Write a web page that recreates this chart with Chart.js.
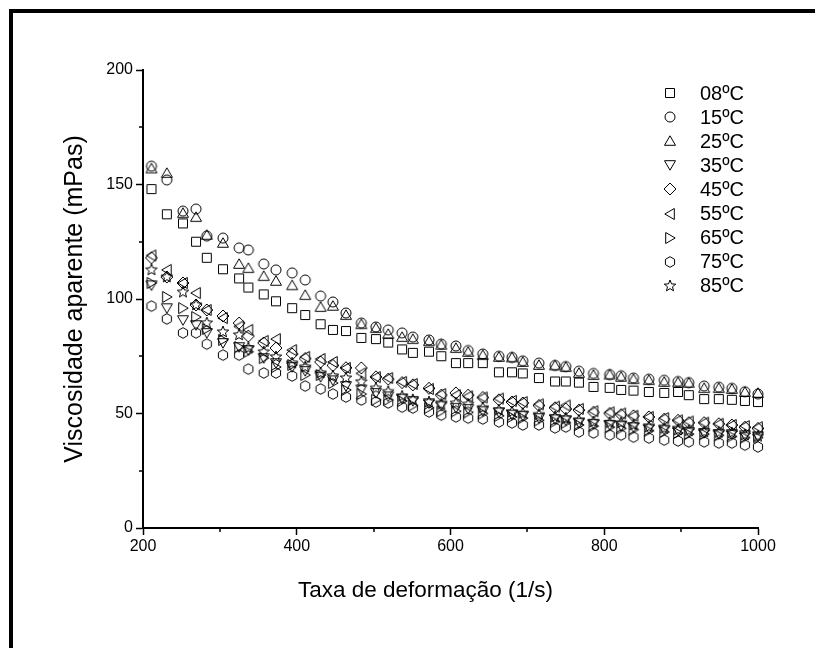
<!DOCTYPE html>
<html><head><meta charset="utf-8">
<script src="https://cdn.jsdelivr.net/npm/chart.js@4"></script>
<style>
html,body{margin:0;padding:0;background:#fff;}
#wrap{position:relative;width:815px;height:648px;overflow:hidden;background:#fff;}
#c{position:absolute;left:0;top:0;}
#frame{position:absolute;left:9px;top:9px;width:900px;height:800px;border-left:4px solid #000;border-top:4px solid #000;box-sizing:border-box;pointer-events:none;}
</style></head><body>
<div id="wrap"><canvas id="c" width="815" height="648"></canvas><div id="frame"></div></div>
<script>
// ---- data ----
const xRate = [211, 231, 252, 269, 283, 304, 325, 337, 357, 373, 394, 411, 431, 447, 464, 484, 503, 519, 537, 551, 572, 588, 607, 623, 642, 663, 680, 694, 715, 736, 750, 767, 786, 807, 822, 838, 858, 878, 896, 910, 930, 949, 966, 983, 1000];
const visc08 = [148, 137, 133, 125, 118, 113, 109, 105, 102, 99, 96, 93, 89, 86.5, 86, 83, 82.5, 81, 78, 76.5, 77, 75, 72, 72, 72, 68, 68, 67.5, 65.5, 64, 64, 63.5, 61.6, 61.2, 60.3, 60, 59.4, 59, 59.4, 58, 56.3, 56.3, 56, 55.5, 55];
const visc15 = [158, 152, 138.4, 139.3, 127.5, 126.6, 122.3, 121.4, 115.3, 112.7, 111.4, 108.3, 101.3, 98.7, 93.9, 89.5, 87.8, 86.5, 85.2, 83.4, 82.1, 80.3, 79.5, 77.5, 76, 75, 74.5, 73, 72, 71, 70.5, 68.5, 67.5, 67, 66.5, 65.5, 65, 64.5, 64, 63.5, 62, 61.5, 61, 59.5, 58.5];
const visc25 = [157, 155, 137.5, 135.8, 128, 124.5, 115.3, 113.5, 110, 107.9, 106, 101.7, 96.5, 97, 93, 89, 87.3, 84.7, 83.4, 82.5, 81.6, 80, 78.6, 76.9, 75.5, 74.7, 74.5, 72.5, 71.2, 71, 70.3, 67.7, 66.8, 67, 66, 65, 64.6, 63.8, 63.6, 63.4, 61.1, 61.1, 60.7, 59.4, 59];
const visc35 = [106, 96, 90.8, 88.6, 85.2, 80.8, 79, 77.7, 74.2, 72, 70.3, 68.6, 66, 64.5, 62, 60.5, 59, 57.5, 56.5, 55.5, 54.5, 53.5, 52.5, 52, 51, 50.5, 49.5, 49, 48, 47.5, 47, 46, 45.5, 45, 44.5, 44, 43.5, 43, 42.5, 42, 41.5, 41, 41, 40.5, 40];
const visc45 = [118, 109.6, 107, 97.4, 95.2, 92.6, 89.5, 83.8, 80.8, 78.6, 76, 74, 72.5, 71, 70, 69.9, 66, 65, 63.5, 62.5, 61, 58, 59, 58, 57, 56, 55, 54.6, 53.5, 52.5, 52, 51.5, 50.5, 50, 49.5, 49, 48.5, 47.5, 47, 46, 46, 45.5, 45, 44, 43.5];
const visc55 = [119, 112.7, 107, 102.6, 95.2, 91.7, 88, 86.5, 81.7, 82.5, 77.7, 74.7, 73.8, 72.5, 69.9, 67.5, 65.9, 65.5, 63.8, 62.9, 60.7, 58.5, 58, 57.5, 57, 56.5, 55.5, 55, 54, 53, 53.5, 52, 51, 50.5, 50, 49, 48.5, 48, 47, 46.5, 46, 45.5, 45, 44.5, 44];
const visc65 = [107, 100.9, 96, 92.1, 86.9, 82.1, 79, 77, 74.2, 70.3, 71.2, 66.8, 66.8, 63.3, 60.3, 58.5, 56, 56, 55.5, 53.5, 52.5, 51, 51, 50.5, 50, 49, 48.5, 48, 47, 46.5, 46, 45, 44.5, 44, 43.5, 43, 42.5, 42, 41.5, 41, 41, 40.5, 40, 39.5, 39.5];
const visc75 = [96.9, 91.3, 85.2, 85.2, 80.3, 75.5, 75.5, 69.4, 67.7, 67.7, 66.4, 62, 60.7, 58.5, 57.2, 55.9, 55, 54.6, 52.8, 52.4, 50.7, 49.3, 48.5, 48, 47.6, 46.3, 45.9, 45, 45, 43.7, 44.1, 41.9, 41.5, 40.6, 40.6, 39.7, 39.3, 38.4, 38, 37.6, 37.6, 37.1, 37.1, 36.2, 35.4];
const visc85 = [112.7, 109.6, 103, 97.4, 89.5, 85.6, 84.3, 78.6, 76.9, 74.7, 72, 70.3, 67.7, 66.4, 65.5, 63.8, 61, 59.5, 57.5, 56, 55, 54, 54.5, 54, 52.5, 51.5, 50.7, 50, 49.5, 48.5, 48, 47, 46.3, 46, 45.9, 45, 44.1, 43.5, 42.8, 42.5, 41.9, 41.7, 41.5, 40.6, 40];
const seriesLabels = ['08ºC', '15ºC', '25ºC', '35ºC', '45ºC', '55ºC', '65ºC', '75ºC', '85ºC'];
const seriesValues = [visc08, visc15, visc25, visc35, visc45, visc55, visc65, visc75, visc85];
const markerKinds = ['square', 'circle', 'up', 'down', 'diamond', 'left', 'right', 'hexagon', 'star'];
const xTickValues = [200, 400, 600, 800, 1000];
const yTickValues = [0, 50, 100, 150, 200];
const xMinorTicks = [300, 500, 700, 900];
const yMinorTicks = [25, 75, 125, 175];
const xTitle = 'Taxa de deformação (1/s)';
const yTitle = 'Viscosidade aparente (mPas)';

// ---- marker sprites ----
const FONT = 'Arial, "Liberation Sans", Helvetica, sans-serif';
function makeMarker(kind) {
  const s = 18, m = 9;
  const c = document.createElement('canvas');
  c.width = s; c.height = s;
  const g = c.getContext('2d');
  g.strokeStyle = '#000'; g.lineWidth = 1; g.lineJoin = 'miter';
  const poly = pts => { g.moveTo(m + pts[0][0], m + pts[0][1]); for (let i = 1; i < pts.length; i++) g.lineTo(m + pts[i][0], m + pts[i][1]); g.closePath(); };
  g.beginPath();
  switch (kind) {
    case 'square': g.rect(4.5, 4.5, 9, 9); break;
    case 'circle': g.arc(m, m, 5, 0, Math.PI * 2); break;
    case 'up': poly([[0, -5.2], [5.5, 4.3], [-5.5, 4.3]]); break;
    case 'down': poly([[0, 5.2], [5.5, -4.3], [-5.5, -4.3]]); break;
    case 'left': poly([[-5.2, 0], [4.3, 5.5], [4.3, -5.5]]); break;
    case 'right': poly([[5.2, 0], [-4.3, 5.5], [-4.3, -5.5]]); break;
    case 'diamond': poly([[0, -6], [6, 0], [0, 6], [-6, 0]]); break;
    case 'hexagon': {
      const p = [];
      for (let k = 0; k < 6; k++) { const a = -Math.PI / 2 + k * Math.PI / 3; p.push([5.3 * Math.cos(a), 5.3 * Math.sin(a)]); }
      poly(p); break;
    }
    case 'star': {
      const p = [];
      for (let k = 0; k < 10; k++) { const a = -Math.PI / 2 + k * Math.PI / 5; const r = k % 2 ? 2.6 : 6; p.push([r * Math.cos(a), r * Math.sin(a)]); }
      poly(p); break;
    }
  }
  g.stroke();
  return c;
}
const markers = markerKinds.map(makeMarker);

// ---- decorations: minor ticks, x title, legend ----
const decor = {
  id: 'decor',
  afterDraw(chart) {
    const ctx = chart.ctx, xs = chart.scales.x, ys = chart.scales.y;
    const area = chart.chartArea;
    ctx.save();
    ctx.strokeStyle = '#000';
    ctx.lineWidth = 1.5;
    ctx.beginPath();
    yMinorTicks.forEach(v => { const py = Math.round(ys.getPixelForValue(v)); ctx.moveTo(area.left, py); ctx.lineTo(area.left - 4, py); });
    xMinorTicks.forEach(v => { const px = Math.round(xs.getPixelForValue(v)); ctx.moveTo(px, area.bottom); ctx.lineTo(px, area.bottom + 4); });
    ctx.stroke();
    ctx.fillStyle = '#000';
    ctx.font = '22.5px ' + FONT;
    ctx.textAlign = 'center';
    ctx.textBaseline = 'alphabetic';
    ctx.fillText(xTitle, 425.5, 597);
    ctx.font = '20px ' + FONT;
    ctx.textAlign = 'left';
    ctx.textBaseline = 'middle';
    seriesLabels.forEach((lab, i) => {
      const y = 93 + i * 24.1;
      ctx.drawImage(markers[i], 670 - 9, Math.round(y) - 9);
      ctx.fillText(lab, 700, y + 1);
    });
    ctx.restore();
  }
};

Chart.defaults.font.family = FONT;
Chart.defaults.color = '#000';

new Chart(document.getElementById('c'), {
  type: 'scatter',
  data: {
    datasets: seriesValues.map((vals, i) => ({
      label: seriesLabels[i],
      data: xRate.map((x, j) => ({ x: x, y: vals[j] })),
      pointStyle: markers[i],
      pointRadius: 5,
      pointHoverRadius: 5,
      showLine: false,
      clip: false
    }))
  },
  options: {
    responsive: false,
    animation: false,
    devicePixelRatio: 1,
    events: [],
    layout: { padding: { left: 0, top: 70, right: 57, bottom: 0 } },
    plugins: { legend: { display: false }, tooltip: { enabled: false } },
    scales: {
      x: {
        type: 'linear', min: 200, max: 1000,
        afterFit: s => { s.height = 120; },
        afterBuildTicks: s => { s.ticks = xTickValues.map(v => ({ value: v })); },
        ticks: { font: { size: 16 }, color: '#000', padding: 2, maxRotation: 0, callback: v => String(v) },
        grid: { drawOnChartArea: false, drawTicks: true, tickLength: 7, tickWidth: 1.5, tickColor: '#000', color: '#000' },
        border: { display: true, color: '#000', width: 2 }
      },
      y: {
        type: 'linear', min: 0, max: 200,
        afterFit: s => { s.width = 143; },
        afterBuildTicks: s => { s.ticks = yTickValues.map(v => ({ value: v })); },
        ticks: { font: { size: 16 }, color: '#000', padding: 3, callback: v => String(v) },
        grid: { drawOnChartArea: false, drawTicks: true, tickLength: 7, tickWidth: 1.5, tickColor: '#000', color: '#000' },
        border: { display: true, color: '#000', width: 2 },
        title: { display: true, text: yTitle, font: { size: 25 }, color: '#000', padding: { top: 60, bottom: 0 } }
      }
    }
  },
  plugins: [decor]
});
</script>
</body></html>
